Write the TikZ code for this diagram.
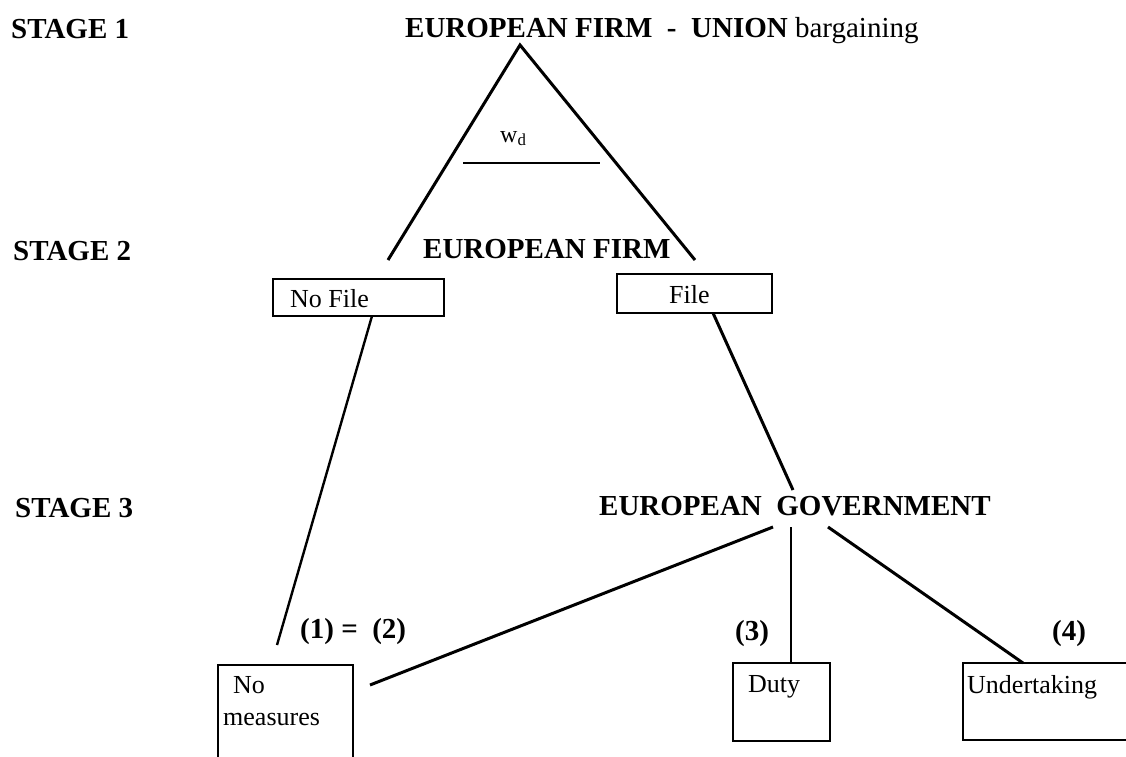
\documentclass[tikz,border=0pt]{standalone}
\usepackage{fontspec}
\setmainfont{Liberation Serif}

\tikzset{
  stagetxt/.style={anchor=base west, inner sep=0pt, font=\fontsize{29}{32}\selectfont\bfseries},
  boxtxt/.style={anchor=base west, inner sep=0pt, font=\fontsize{26}{28}\selectfont},
  box/.style={draw, line width=2.2pt, inner sep=0pt},
  branch/.style={line width=3pt},
}

\begin{document}
\begin{tikzpicture}[x=1pt, y=-1pt]
				\useasboundingbox (0,0) rectangle (1126,756);

				% Stage labels
				\node[stagetxt] (s1) at (11,38) {STAGE 1};
				\node[stagetxt] (s2) at (13,260) {STAGE 2};
				\node[stagetxt] (s3) at (15,517) {STAGE 3};

				% Stage 1
				\node[stagetxt] (bargain) at (405,37) {EUROPEAN FIRM~~-~~UNION \textmd{bargaining}};
				\coordinate (apex) at (520,45);
				\coordinate (legl) at (388,260);
				\coordinate (legr) at (695,260);
				\draw[branch] (legl) -- (apex) -- (legr);
				\node[boxtxt, font=\fontsize{24}{26}\selectfont] (wd) at (500,142) {w\textsubscript{d}};
				\coordinate (barl) at (463,163);
				\coordinate (barr) at (600,163);
				\draw[line width=2.4pt] (barl) -- (barr);

				% Stage 2
				\node[stagetxt] (firm) at (423,258) {EUROPEAN FIRM};
				\node[box, minimum width=171pt, minimum height=37pt] (nofile) at (358.5,297.5) {};
				\node[boxtxt] (nofiletxt) at (290,307) {No File};
				\node[box, minimum width=155pt, minimum height=39pt] (file) at (694.5,293.5) {};
				\node[boxtxt] (filetxt) at (669,303) {File};

				% Stage 3
				\node[stagetxt] (gov) at (599,515) {EUROPEAN\enspace GOVERNMENT};
				\coordinate (nfout) at (372,316);
				\coordinate (nfend) at (277,645);
				\draw[line width=2.4pt] (nfout) -- (nfend);
				\coordinate (fout) at (713,313);
				\coordinate (fend) at (793,490);
				\draw[branch] (fout) -- (fend);
				\coordinate (govl) at (773,527);
				\coordinate (govm) at (791,527);
				\coordinate (govr) at (828,527);
				\coordinate (nmin) at (370,685);
				\coordinate (dutyin) at (791,663);
				\coordinate (underin) at (1023,663);
				\draw[branch] (govl) -- (nmin);
				\draw[line width=1.8pt] (govm) -- (dutyin);
				\draw[branch] (govr) -- (underin);

				% Outcomes
				\node[stagetxt] (o12) at (300,638) {(1) =~~(2)};
				\node[stagetxt] (o3) at (735,640) {(3)};
				\node[stagetxt] (o4) at (1052,640) {(4)};
				\node[box, minimum width=135pt, minimum height=120pt] (nomeas) at (285.5,725) {};
				\node[boxtxt] (nomeastxt1) at (233,693) {No};
				\node[boxtxt] (nomeastxt2) at (223,725) {measures};
				\node[box, minimum width=97pt, minimum height=78pt] (duty) at (781.5,702) {};
				\node[boxtxt] (dutytxt) at (748,692) {Duty};
				\node[box, minimum width=180pt, minimum height=77pt] (under) at (1053,701.5) {};
				\node[boxtxt] (undertxt) at (967,693) {Undertaking};
\end{tikzpicture}
\end{document}
